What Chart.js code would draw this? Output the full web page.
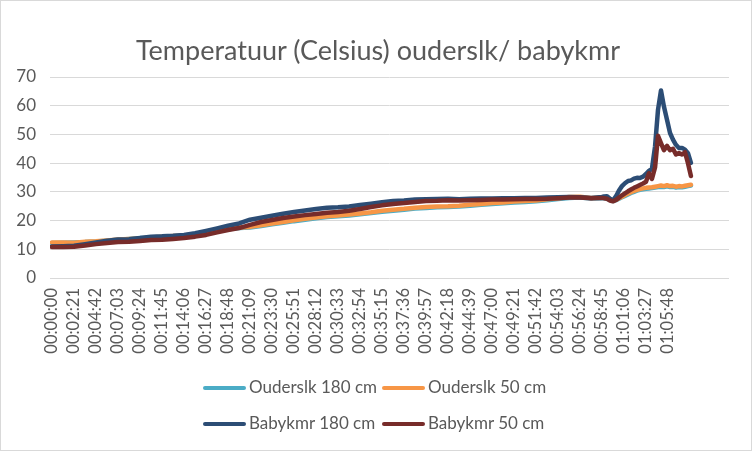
<!DOCTYPE html>
<html>
<head>
<meta charset="utf-8">
<title>Temperatuur ouderslk / babykmr</title>
<script src="https://cdn.jsdelivr.net/npm/chart.js@4.4.1/dist/chart.umd.min.js"></script>
<style>
  html, body { margin: 0; padding: 0; background: #fff; }
  #wrap { position: relative; width: 752px; height: 451px; overflow: hidden; }
  #wrap canvas { position: absolute; left: 0; top: 0; }
  #frame { position: absolute; left: 0; top: 0; width: 752px; height: 451px; box-sizing: border-box; border: 1px solid #d9d9d9; pointer-events: none; }
  #chartTitle { position: absolute; left: 2px; top: 34px; width: 752px; text-align: center; font-family: Lato, sans-serif; font-size: 27px; line-height: 32px; color: #595959; white-space: nowrap; }
  .leg { position: absolute; height: 20px; line-height: 20px; font-family: Lato, sans-serif; font-size: 17px; color: #595959; white-space: nowrap; }
  .leg span.ln { display: inline-block; width: 43px; height: 4px; border-radius: 2px; vertical-align: middle; margin-right: 3px; position: relative; top: -1px; }
</style>
</head>
<body>
<div id="wrap">
  <canvas id="tempChart" width="752" height="451"></canvas>
  <div id="chartTitle"></div>
  <div id="legendBox"></div>
  <div id="frame"></div>
</div>
<script>
// ---- DATA ----
var chartTitle = 'Temperatuur (Celsius) ouderslk/ babykmr';

var tickLabels = ["00:00:00", "00:02:21", "00:04:42", "00:07:03", "00:09:24", "00:11:45", "00:14:06",
  "00:16:27", "00:18:48", "00:21:09", "00:23:30", "00:25:51", "00:28:12", "00:30:33", "00:32:54",
  "00:35:15", "00:37:36", "00:39:57", "00:42:18", "00:44:39", "00:47:00", "00:49:21", "00:51:42",
  "00:54:03", "00:56:24", "00:58:45", "01:01:06", "01:03:27", "01:05:48"];

// measurement times (seconds since start)
var timeSec = [0, 71, 141, 212, 282, 353, 423, 494, 564, 635, 705, 776, 846, 917, 987, 1058, 1128,
  1199, 1269, 1340, 1410, 1481, 1551, 1622, 1692, 1763, 1833, 1904, 1974, 2045, 2115, 2186, 2256,
  2327, 2397, 2468, 2538, 2609, 2679, 2750, 2820, 2891, 2961, 3032, 3102, 3173, 3243, 3314, 3384,
  3455, 3525,
  3538, 3557, 3576, 3595, 3615, 3634, 3653, 3672, 3692, 3711, 3730, 3749, 3768, 3788, 3807, 3826,
  3845, 3865, 3884, 3903, 3922, 3942, 3961, 3980, 3999, 4018, 4038, 4057, 4076, 4095];

var ouderslk180 = [12.2, 12.3, 12.4, 12.5, 12.7, 13.0, 13.3, 13.6, 13.9, 14.0, 14.3, 14.5, 14.7,
  15.1, 15.7, 16.4, 17.0, 17.4, 17.6, 18.1, 18.7, 19.2, 19.8, 20.3, 20.8, 21.2, 21.5, 21.8, 22.2,
  22.6, 23.1, 23.4, 23.8, 24.2, 24.4, 24.6, 24.7, 24.9, 25.2, 25.5, 25.8, 26.0, 26.3, 26.5, 26.7,
  27.1, 27.5, 27.9, 28.0, 27.7, 27.8,
  27.8, 27.6, 27.3, 26.8, 27.1, 27.6, 28.1, 28.6, 29.1, 29.6, 30.0, 30.4, 30.7, 30.9, 31.1, 31.2,
  31.3, 31.5, 31.7, 31.8, 31.7, 31.9, 31.7, 31.8, 31.5, 31.7, 31.6, 31.8, 32.0, 32.2];

var ouderslk50 = [12.4, 12.4, 12.3, 12.6, 12.8, 13.1, 13.4, 13.6, 13.8, 14.1, 14.4, 14.6, 14.8,
  15.3, 15.9, 16.6, 17.2, 17.6, 17.8, 18.4, 19.0, 19.5, 20.1, 20.6, 21.1, 21.5, 21.8, 22.1, 22.5,
  22.9, 23.4, 23.8, 24.1, 24.5, 24.7, 24.9, 25.0, 25.2, 25.5, 25.8, 26.1, 26.3, 26.6, 26.8, 27.0,
  27.4, 27.8, 28.2, 28.3, 27.9, 28.0,
  28.0, 27.8, 27.5, 27.0, 27.3, 27.8, 28.3, 28.9, 29.4, 29.9, 30.3, 30.7, 31.0, 31.2, 31.4, 31.5,
  31.6, 31.8, 32.0, 32.2, 32.0, 32.3, 32.0, 32.1, 31.8, 32.0, 31.9, 32.1, 32.3, 32.5];

var babykmr180 = [11.0, 11.1, 11.2, 11.8, 12.4, 13.0, 13.4, 13.5, 13.9, 14.4, 14.5, 14.7, 15.0,
  15.6, 16.4, 17.3, 18.2, 19.0, 20.3, 21.0, 21.7, 22.4, 23.0, 23.5, 24.0, 24.5, 24.6, 24.9, 25.4,
  25.9, 26.4, 26.8, 27.0, 27.3, 27.4, 27.5, 27.6, 27.4, 27.6, 27.7, 27.7, 27.8, 27.8, 27.9, 27.9,
  28.0, 28.1, 28.2, 28.1, 27.9, 28.2,
  28.4, 28.5, 27.6, 27.0, 28.5, 30.5, 32.0, 33.0, 33.8, 34.0, 34.6, 34.9, 34.8, 35.3, 36.2, 37.3,
  38.0, 45.8, 58.6, 65.3, 59.7, 55.0, 50.5, 48.2, 46.4, 45.3, 45.3, 44.7, 43.5, 40.1];

var babykmr50 = [10.8, 10.8, 10.9, 11.3, 11.8, 12.2, 12.5, 12.6, 12.9, 13.2, 13.3, 13.6, 13.9,
  14.4, 15.0, 15.9, 16.7, 17.4, 18.5, 19.5, 20.2, 20.9, 21.4, 21.9, 22.3, 22.7, 23.0, 23.4, 24.0,
  24.7, 25.3, 25.8, 26.1, 26.5, 26.8, 26.9, 27.1, 27.0, 27.1, 27.2, 27.3, 27.3, 27.4, 27.5, 27.5,
  27.6, 27.8, 28.0, 28.0, 27.8, 27.9,
  27.8, 27.6, 27.0, 26.7, 27.2, 28.0, 28.8, 29.5, 30.2, 30.8, 31.4, 31.9, 32.4, 32.9, 33.5, 36.5,
  34.5, 38.5, 49.5, 47.0, 44.5, 46.0, 44.5, 45.0, 43.0, 43.5, 43.0, 43.8, 40.0, 35.5];

var seriesNames = ["Ouderslk 180 cm", "Ouderslk 50 cm", "Babykmr 180 cm", "Babykmr 50 cm"];
var seriesData = [ouderslk180, ouderslk50, babykmr180, babykmr50];
var seriesColors = ["#4BACC6", "#F79646", "#2C4D75", "#772C2A"];

// ---- helpers ----
function toSeconds(label) {
    var p = label.split(':');
    return (+p[0]) * 3600 + (+p[1]) * 60 + (+p[2]);
}
var tickSec = tickLabels.map(toSeconds);
var txtColor = '#595959';
var fontFam = 'Lato, "Open Sans", sans-serif';

document.getElementById('chartTitle').textContent = chartTitle;

var datasets = seriesData.map(function (arr, i) {
    return {
        label: seriesNames[i],
        data: timeSec.map(function (t, j) { return { x: t, y: arr[j] }; }),
        borderColor: seriesColors[i],
        backgroundColor: seriesColors[i],
        borderWidth: 4.5,
        pointRadius: 0,
        tension: 0,
        borderJoinStyle: 'round',
        borderCapStyle: 'round',
        order: 4 - i   // later series drawn on top, like excel
    };
});

var ctx = document.getElementById('tempChart').getContext('2d');
var tempChart = new Chart(ctx, {
    type: 'line',
    data: { datasets: datasets },
    options: {
        responsive: false,
        animation: false,
        layout: { padding: { top: 77, left: 0, right: 23, bottom: 93 } },
        plugins: {
            legend: { display: false },
            tooltip: { enabled: false },
            title: { display: false }
        },
        scales: {
            x: {
                type: 'linear',
                min: -13,
                max: 4339,
                grid: { display: false, drawTicks: false },
                border: { display: false },
                afterBuildTicks: function (axis) {
                    axis.ticks = tickSec.map(function (v) { return { value: v }; });
                },
                afterFit: function (axis) { axis.height = 80; },
                ticks: {
                    autoSkip: false,
                    minRotation: 90,
                    maxRotation: 90,
                    padding: 10,
                    color: txtColor,
                    font: { family: fontFam, size: 16.5 },
                    callback: function (value) {
                        var i = tickSec.indexOf(value);
                        return i >= 0 ? tickLabels[i] : '';
                    }
                }
            },
            y: {
                min: 0,
                max: 70,
                grid: { color: '#D9D9D9', lineWidth: 1, drawTicks: false },
                border: { display: false },
                afterFit: function (axis) { axis.width = 50; },
                ticks: {
                    stepSize: 10,
                    padding: 14,
                    color: txtColor,
                    font: { family: fontFam, size: 17 }
                }
            }
        }
    }
});

// ---- legend (two rows, like the excel one) ----
var legendPos = [[203, 377], [382, 377], [203, 413], [382, 413]];
var legendBox = document.getElementById('legendBox');
seriesNames.forEach(function (name, i) {
    var item = document.createElement('div');
    item.className = 'leg';
    item.style.left = legendPos[i][0] + 'px';
    item.style.top = legendPos[i][1] + 'px';
    item.innerHTML = '<span class="ln" style="background:' + seriesColors[i] + '"></span>' + name;
    legendBox.appendChild(item);
});
</script>
</body>
</html>
